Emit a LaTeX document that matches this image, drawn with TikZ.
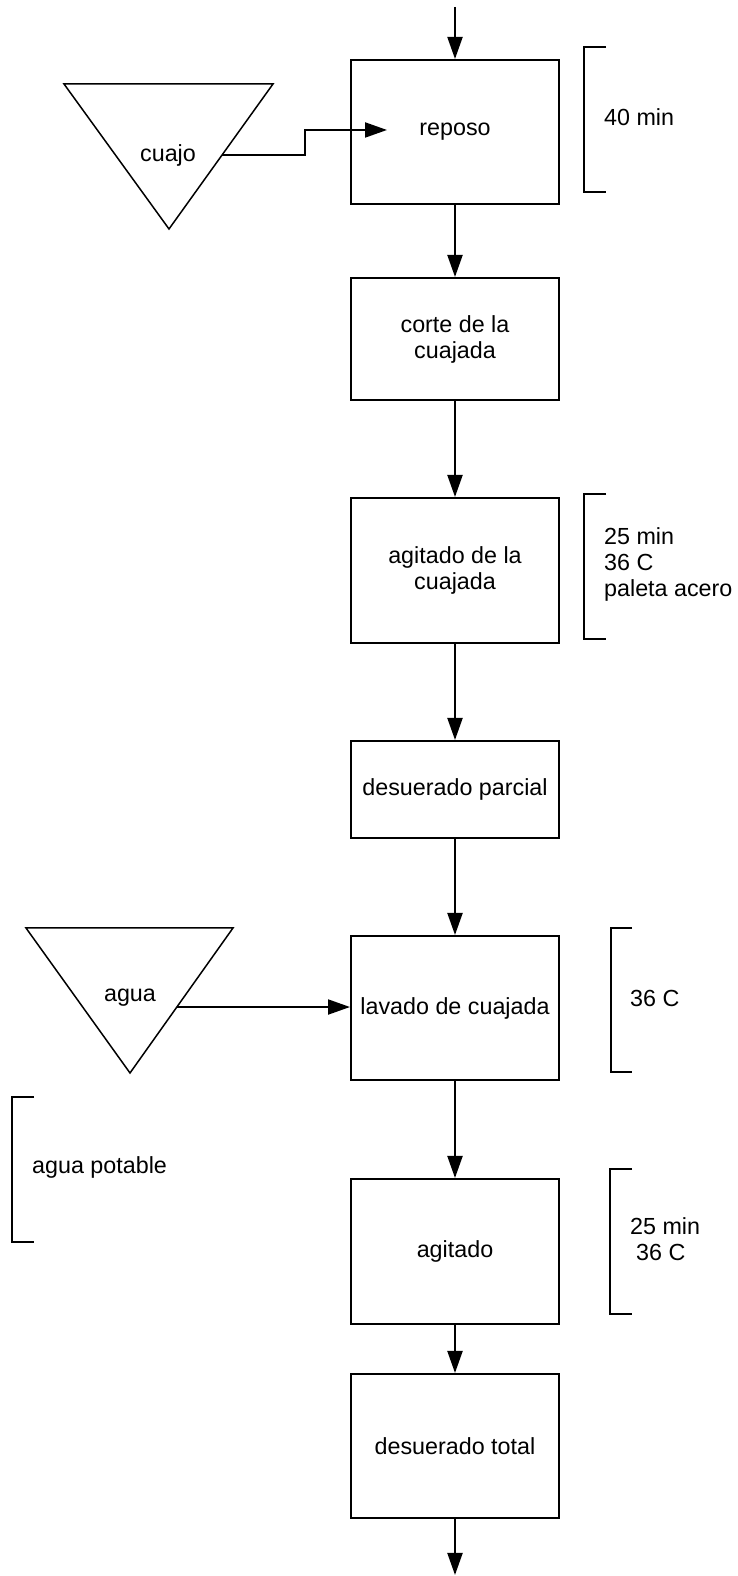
\documentclass[tikz,border=0pt]{standalone}
\usepackage{fontspec}
\setmainfont{Liberation Sans}
\usetikzlibrary{arrows.meta,calc,positioning}

\begin{document}
\begin{tikzpicture}[auto,x=1pt,y=1pt,>={Triangle[length=22pt,width=15pt]},font=\fontsize{23.3}{26}\selectfont]
	\tikzstyle{block} = [draw, rectangle, line width=2pt, minimum width=208pt, inner sep=0pt, align=center]
	\tikzstyle{flow} = [->, line width=2pt]
	\tikzstyle{brace} = [line width=2pt]
	\tikzstyle{supply} = [line width=1.5pt, line join=miter]
	\tikzstyle{note} = [anchor=west, align=left, inner sep=0pt]
	
	\useasboundingbox (0,0) rectangle (737,1576);
	
	% main line
	\coordinate (start) at (455,1569);
	\node [block, minimum height=144pt] (reposo) at (455,1444) {reposo};
	\node [block, minimum height=122pt, below = 72pt of reposo] (corte) {corte de la\\cuajada};
	\node [block, minimum height=145pt, below = 96pt of corte] (agitcuaj) {agitado de la\\cuajada};
	\node [block, minimum height=97pt, below = 96pt of agitcuaj] (desparcial) {desuerado parcial};
	\node [block, minimum height=144pt, below = 96pt of desparcial] (lavado) {lavado de cuajada};
	\node [block, minimum height=145pt, below = 97pt of lavado] (agitado) {agitado};
	\node [block, minimum height=144pt, below = 48pt of agitado] (destotal) {desuerado total};
	\coordinate (end) at (455,1);
	
	\draw [flow] (start) -- (reposo);
	\draw [flow] (reposo) -- (corte);
	\draw [flow] (corte) -- (agitcuaj);
	\draw [flow] (agitcuaj) -- (desparcial);
	\draw [flow] (desparcial) -- (lavado);
	\draw [flow] (lavado) -- (agitado);
	\draw [flow] (agitado) -- (destotal);
	\draw [flow] (destotal) -- (end);
	
	% cuajo
	\coordinate (cuajoL) at (64,1492);
	\coordinate (cuajoR) at (273,1492);
	\coordinate (cuajoB) at (169,1347);
	\draw [supply] (cuajoL) -- (cuajoR) -- (cuajoB) -- cycle;
	\node (cuajo) at (168,1421) {cuajo};
	\coordinate (cuajoout) at ($(cuajoR)!0.49!(cuajoB)$);
	\coordinate (cuajoin) at (387,1446);
	\draw [flow] (cuajoout) -- ++(83,0) |- (cuajoin);
	
	% agua
	\coordinate (aguaL) at (26,648);
	\coordinate (aguaR) at (233,648);
	\coordinate (aguaB) at (130,503);
	\draw [supply] (aguaL) -- (aguaR) -- (aguaB) -- cycle;
	\node (agua) at (130,578) {agua};
	\coordinate (aguaout) at ($(aguaR)!0.545!(aguaB)$);
	\draw [flow] (aguaout) -- (aguaout -| lavado.west);
	
	% condiciones
	\draw [brace] (606,1529) -- (584,1529) -- (584,1384) -- (606,1384);
	\node [note] (t40) at (604,1459) {40 min};
	
	\draw [brace] (606,1082) -- (584,1082) -- (584,937) -- (606,937);
	\node [note] (t25a) at (604,1012) {25 min\\36 C\\paleta acero};
	
	\draw [brace] (632,648) -- (611,648) -- (611,504) -- (632,504);
	\node [note] (t36) at (630,578) {36 C};
	
	\draw [brace] (34,479) -- (12,479) -- (12,334) -- (34,334);
	\node [note] (potable) at (32,409) {agua potable};
	
	\draw [brace] (632,407) -- (610,407) -- (610,262) -- (632,262);
	\node [note] (t25b) at (630,337) {25 min\\\hspace*{6pt}36 C};
	
\end{tikzpicture}
\end{document}
